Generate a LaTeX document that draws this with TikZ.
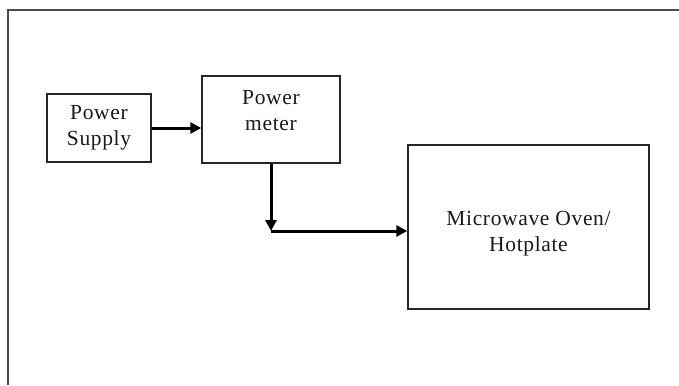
\documentclass[tikz,border=0pt]{standalone}
\usepackage{fontspec}
\setmainfont{Liberation Serif}[LetterSpace=3]
\usetikzlibrary{arrows.meta}
\begin{document}
\begin{tikzpicture}[x=1pt,y=-1pt,
  box/.style={draw=black!85,line width=1.5pt,rectangle,inner sep=0pt},
  lbl/.style={font=\fontsize{21.5}{26}\selectfont,align=center,text=black!90},
  arr/.style={line width=3pt,-{Triangle[length=11pt,width=11pt]}},
  frame/.style={draw=black!70,line width=1.5pt}]
\useasboundingbox (0,0) rectangle (679,385);
\draw[frame] (8,385) -- (8,10) -- (679,10);
\node[box,minimum width=104pt,minimum height=68pt,lbl] (ps) at (99,128) {Power\\Supply};
\node[box,minimum width=138pt,minimum height=87pt] (pm) at (271,119.5) {};
\node[lbl] (pmt) at (271,111) {Power\\meter};
\node[box,minimum width=241pt,minimum height=164pt] (mw) at (528.5,227) {};
\node[lbl] (mwt) at (528.5,234) {Microwave Oven/\\Hotplate};
\coordinate (corner) at (271,231);
\draw[arr] (ps.east) -- (ps.east -| pm.west);
\draw[arr] (pm.south) -- (corner);
\draw[arr] (corner) -- (corner -| mw.west);
\end{tikzpicture}
\end{document}
